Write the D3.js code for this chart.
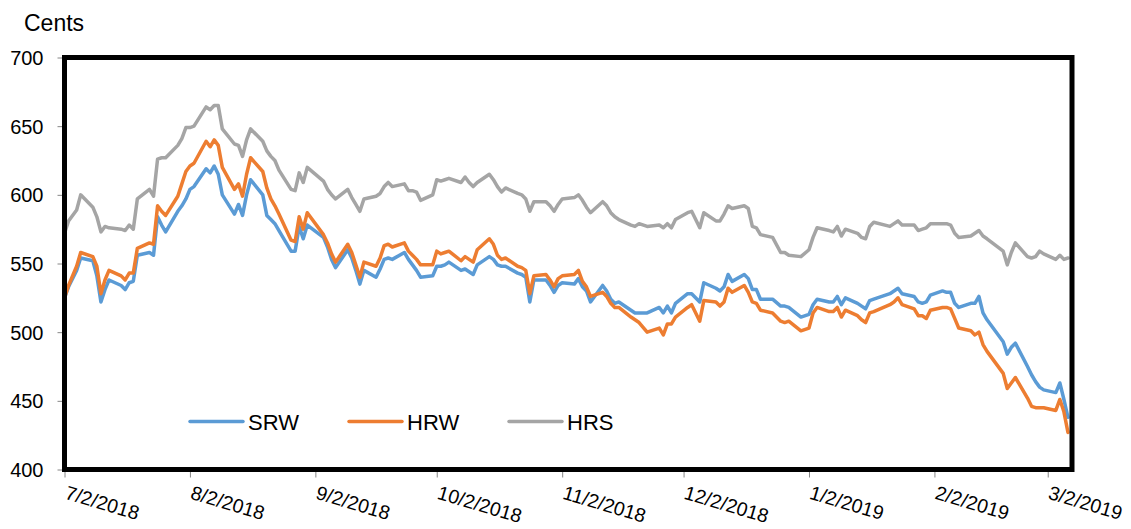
<!DOCTYPE html>
<html>
<head>
<meta charset="utf-8">
<script src="https://cdn.jsdelivr.net/npm/d3@7"></script>
<style>
    body { margin: 0; background: #fff; }
    text { font-family: Arial, "Liberation Sans", sans-serif; fill: #000; }
</style>
</head>
<body>
<svg width="1131" height="529"></svg>
<script>
// trading days
const dates = [
    "2018-07-02", "2018-07-03", "2018-07-05", "2018-07-06", "2018-07-09", "2018-07-10", "2018-07-11", "2018-07-12", "2018-07-13",
    "2018-07-16", "2018-07-17", "2018-07-18", "2018-07-19", "2018-07-20", "2018-07-23", "2018-07-24", "2018-07-25", "2018-07-26",
    "2018-07-27", "2018-07-30", "2018-07-31", "2018-08-01", "2018-08-02", "2018-08-03", "2018-08-06", "2018-08-07", "2018-08-08",
    "2018-08-09", "2018-08-10", "2018-08-13", "2018-08-14", "2018-08-15", "2018-08-16", "2018-08-17", "2018-08-20", "2018-08-21",
    "2018-08-22", "2018-08-23", "2018-08-24", "2018-08-27", "2018-08-28", "2018-08-29", "2018-08-30", "2018-08-31", "2018-09-04",
    "2018-09-05", "2018-09-06", "2018-09-07", "2018-09-10", "2018-09-11", "2018-09-12", "2018-09-13", "2018-09-14", "2018-09-17",
    "2018-09-18", "2018-09-19", "2018-09-20", "2018-09-21", "2018-09-24", "2018-09-25", "2018-09-26", "2018-09-27", "2018-09-28",
    "2018-10-01", "2018-10-02", "2018-10-03", "2018-10-04", "2018-10-05", "2018-10-08", "2018-10-09", "2018-10-10", "2018-10-11",
    "2018-10-12", "2018-10-15", "2018-10-16", "2018-10-17", "2018-10-18", "2018-10-19", "2018-10-22", "2018-10-23", "2018-10-24",
    "2018-10-25", "2018-10-26", "2018-10-29", "2018-10-30", "2018-10-31", "2018-11-01", "2018-11-02", "2018-11-05", "2018-11-06",
    "2018-11-07", "2018-11-08", "2018-11-09", "2018-11-12", "2018-11-13", "2018-11-14", "2018-11-15", "2018-11-16", "2018-11-19",
    "2018-11-20", "2018-11-21", "2018-11-23", "2018-11-26", "2018-11-27", "2018-11-28", "2018-11-29", "2018-11-30", "2018-12-03",
    "2018-12-04", "2018-12-06", "2018-12-07", "2018-12-10", "2018-12-11", "2018-12-12", "2018-12-13", "2018-12-14", "2018-12-17",
    "2018-12-18", "2018-12-19", "2018-12-20", "2018-12-21", "2018-12-24", "2018-12-26", "2018-12-27", "2018-12-28", "2018-12-31",
    "2019-01-02", "2019-01-03", "2019-01-04", "2019-01-07", "2019-01-08", "2019-01-09", "2019-01-10", "2019-01-11", "2019-01-14",
    "2019-01-15", "2019-01-16", "2019-01-17", "2019-01-18", "2019-01-22", "2019-01-23", "2019-01-24", "2019-01-25", "2019-01-28",
    "2019-01-29", "2019-01-30", "2019-01-31", "2019-02-01", "2019-02-04", "2019-02-05", "2019-02-06", "2019-02-07", "2019-02-08",
    "2019-02-11", "2019-02-12", "2019-02-13", "2019-02-14", "2019-02-15", "2019-02-19", "2019-02-20", "2019-02-21", "2019-02-22",
    "2019-02-25", "2019-02-26", "2019-02-27", "2019-02-28", "2019-03-01", "2019-03-04", "2019-03-05", "2019-03-06", "2019-03-07"
];

const srw = [
    525, 533, 545, 554, 552, 541, 522, 531, 538,
    534, 531, 536, 537, 556, 558, 556, 584, 578,
    573, 588, 592, 597, 604, 606, 619, 616, 621,
    615, 600, 586, 593, 585, 600, 611, 600, 585,
    582, 579, 574, 559, 559, 577, 568, 578, 569,
    562, 553, 547, 560, 554, 545, 535, 545, 540,
    546, 553, 554, 553, 558, 553, 549, 545, 540,
    541, 548, 548, 549, 551, 545, 546, 544, 542,
    549, 555, 553, 549, 548, 548, 543, 542, 540,
    522, 538, 538, 534, 529, 534, 536, 535, 539,
    533, 530, 522, 534, 530, 524, 521, 522, 516,
    514, 514, 514, 518, 514, 519, 514, 521, 528,
    528, 522, 536, 532, 530, 533, 542, 537, 542,
    539, 531, 531, 524, 524, 519, 519, 518, 511,
    513, 520, 524, 522, 522, 526, 520, 525, 521,
    519, 517, 523, 524, 528, 530, 532, 528, 526,
    522, 521, 522, 527, 530, 529, 529, 521, 518,
    521, 521, 526, 514, 509, 493, 484, 489, 492,
    475, 469, 464, 460, 458, 456, 463, 451, 438
];

const hrw = [
    525, 534, 548, 558, 555, 548, 528, 538, 545,
    541, 538, 543, 543, 561, 565, 564, 592, 588,
    585, 599, 608, 617, 621, 623, 639, 635, 640,
    636, 620, 604, 608, 599, 615, 627, 617, 605,
    597, 592, 586, 567, 566, 584, 575, 587, 571,
    565, 557, 551, 564, 558, 549, 540, 551, 548,
    554, 563, 564, 562, 565, 559, 556, 553, 549,
    549, 559, 557, 558, 559, 552, 555, 553, 551,
    560, 568, 564, 556, 553, 554, 548, 547, 545,
    528, 541, 542, 538, 533, 539, 541, 542, 545,
    537, 533, 526, 529, 526, 521, 518, 518, 511,
    509, 507, 500, 503, 498, 506, 506, 511, 518,
    520, 508, 523, 522, 519, 522, 532, 529, 534,
    529, 522, 521, 516, 514, 508, 507, 508, 501,
    503, 514, 518, 515, 515, 518, 511, 516, 512,
    509, 507, 514, 515, 520, 522, 525, 520, 517,
    512, 512, 510, 516, 518, 518, 517, 510, 503,
    501, 498, 500, 491, 486, 470, 459, 463, 467,
    452, 446, 445, 445, 445, 443, 451, 442, 427
];

const hrs = [
    572, 581, 589, 600, 591, 584, 573, 577, 576,
    575, 574, 578, 575, 597, 604, 599, 626, 627,
    627, 636, 641, 649, 649, 650, 664, 662, 665,
    665, 648, 637, 636, 628, 640, 648, 639, 632,
    628, 625, 618, 604, 603, 616, 609, 620, 610,
    604, 600, 597, 604, 598, 593, 588, 597, 599,
    601, 606, 609, 606, 608, 603, 603, 602, 596,
    600, 611, 610, 611, 612, 609, 613, 609, 606,
    609, 615, 611, 606, 602, 605, 601, 600, 597,
    588, 595, 595, 592, 588, 593, 597, 598, 600,
    596, 591, 587, 595, 592, 587, 584, 582, 578,
    577, 579, 577, 578, 576, 579, 576, 582, 587,
    588, 576, 587, 581, 581, 586, 592, 590, 592,
    590, 577, 576, 571, 569, 558, 558, 556, 555,
    560, 569, 576, 574, 573, 577, 570, 575, 572,
    569, 568, 577, 580, 577, 579, 581, 578, 578,
    574, 575, 576, 579, 579, 579, 578, 572, 569,
    570, 572, 574, 570, 568, 559, 549, 558, 565,
    555, 554, 555, 559, 557, 553, 556, 553, 554
];

const seriesNames = ["SRW", "HRW", "HRS"];
const seriesColors = ["#5B9BD5", "#ED7D31", "#A5A5A5"];
const yTicks = [400, 450, 500, 550, 600, 650, 700];
const xTicks = ["2018-07-02", "2018-08-02", "2018-09-02", "2018-10-02", "2018-11-02", "2018-12-02", "2019-01-02", "2019-02-02", "2019-03-02"];

const parseDate = d3.timeParse("%Y-%m-%d");
const svg = d3.select("svg");

const plotLeft = 64.5, plotRight = 1072, plotTop = 57.5, plotBottom = 469.5;

const xScale = d3
    .scaleTime()
    .domain([parseDate("2018-07-02"), parseDate("2019-03-08")])
    .range([plotLeft, plotRight]);
const yScale = d3.scaleLinear().domain([400, 700]).range([plotBottom, plotTop]);

// y axis
const yAxis = svg
    .append("g")
    .attr("transform", `translate(${plotLeft},0)`)
    .call(d3.axisLeft(yScale).tickValues(yTicks).tickSize(7).tickPadding(14).tickSizeOuter(0));
yAxis.select(".domain").remove();
yAxis.selectAll(".tick line").attr("stroke", "#868686");
yAxis.selectAll(".tick text").style("font-size", "20px").attr("dy", "0.35em");

svg.append("text").attr("x", 24).attr("y", 31).style("font-size", "23px").text("Cents");

// x axis
const xAxis = svg
    .append("g")
    .attr("transform", `translate(0,${plotBottom})`)
    .call(
        d3
            .axisBottom(xScale)
            .tickValues(xTicks.map(parseDate))
            .tickFormat(d3.timeFormat("%-m/%-d/%Y"))
            .tickSize(8)
            .tickSizeOuter(0)
    );
xAxis.select(".domain").remove();
xAxis.selectAll(".tick line").attr("stroke", "#868686");
xAxis
    .selectAll(".tick text")
    .style("font-size", "19.5px")
    .attr("text-anchor", "start")
    .attr("x", 0)
    .attr("y", 0)
    .attr("dy", 0)
    .attr("transform", "translate(-1,29) rotate(16.5)");

// lines
const series = [srw, hrw, hrs];
const line = d3
    .line()
    .x((d, i) => xScale(parseDate(dates[i])))
    .y((d) => yScale(d));

svg.selectAll(".series")
    .data(series)
    .enter()
    .append("path")
    .classed("series", true)
    .attr("fill", "none")
    .attr("stroke", (d, i) => seriesColors[i])
    .attr("stroke-width", 3.5)
    .attr("stroke-linejoin", "round")
    .attr("stroke-linecap", "round")
    .attr("d", line);

// plot frame
svg.append("rect")
    .attr("x", plotLeft)
    .attr("y", plotTop)
    .attr("width", plotRight - plotLeft)
    .attr("height", plotBottom - plotTop)
    .attr("fill", "none")
    .attr("stroke", "#000")
    .attr("stroke-width", 5);

// legend
const legendX = [190, 349, 509];
const legend = svg
    .selectAll(".legend")
    .data(seriesNames)
    .enter()
    .append("g")
    .classed("legend", true)
    .attr("transform", (d, i) => `translate(${legendX[i]},421.5)`);
legend.append("line")
    .attr("x1", 0)
    .attr("x2", 53)
    .attr("stroke", (d, i) => seriesColors[i])
    .attr("stroke-width", 3.5)
    .attr("stroke-linecap", "round");
legend.append("text")
    .attr("x", 58)
    .attr("y", 8)
    .style("font-size", "22px")
    .text((d) => d);
</script>
</body>
</html>
